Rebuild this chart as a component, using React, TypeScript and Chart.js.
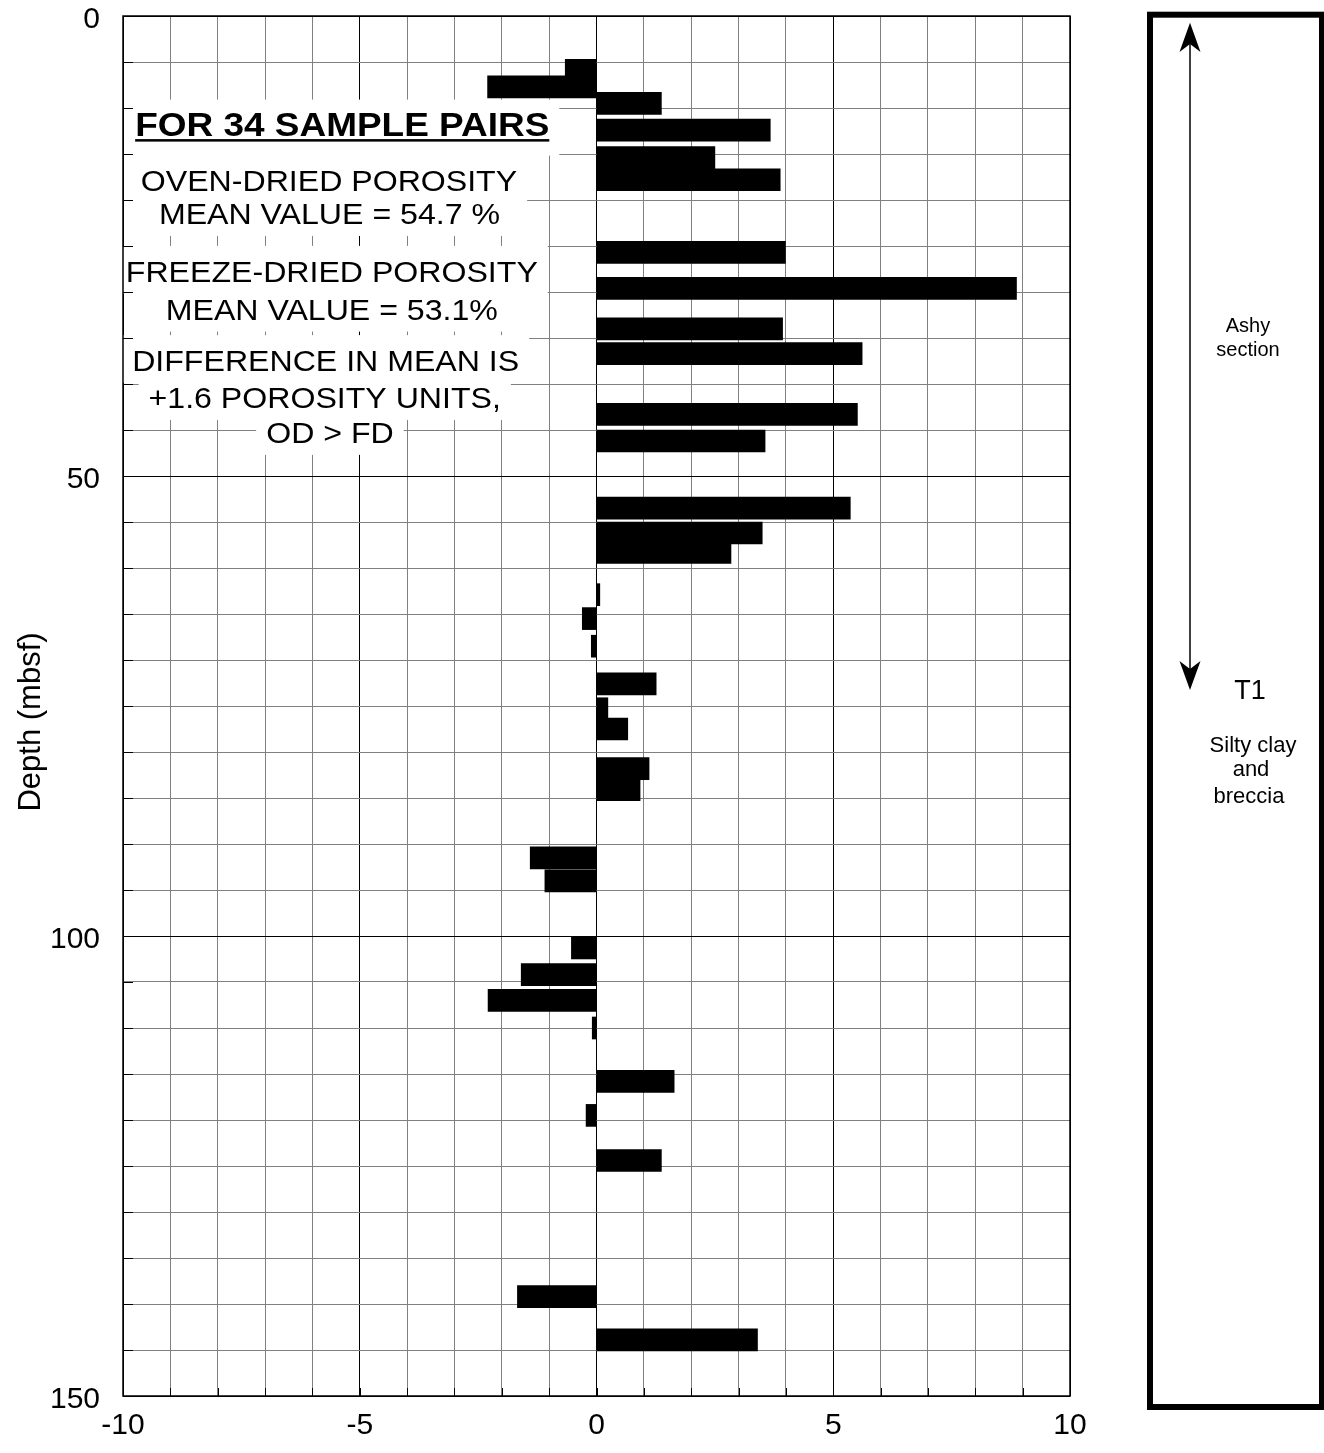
import React, { useEffect, useRef } from 'react';
import { Chart, registerables } from 'chart.js';

Chart.register(...registerables);

const FONT = '"Liberation Sans", Arial, Helvetica, sans-serif';

// Depth (mbsf) of each sample pair
const depths = [
  5.9, 7.7, 9.5, 12.4, 15.4, 17.8, 25.7, 29.6, 34.0, 36.7, 43.3, 46.2,
  53.5, 56.2, 58.3, 62.9, 65.5, 68.5, 72.6, 75.3, 77.5, 81.8, 84.1,
  91.5, 94.0, 101.3, 104.2, 107.0, 110.0, 115.8, 119.5, 124.4, 139.2, 143.9,
];

// Porosity difference (OD - FD), porosity units
const differences = [
  -0.66, -2.3, 1.37, 3.67, 2.5, 3.88, 3.99, 8.87, 3.93, 5.61, 5.51, 3.56,
  5.36, 3.5, 2.84, 0.07, -0.3, -0.11, 1.26, 0.24, 0.66, 1.11, 0.92,
  -1.4, -1.09, -0.53, -1.59, -2.29, -0.09, 1.64, -0.22, 1.37, -1.67, 3.4,
];

const xTickLabels = [-10, -5, 0, 5, 10];
const yTickLabels = [0, 50, 100, 150];

const yAxisTitle = 'Depth (mbsf)';

const noteLines = [
  'FOR 34 SAMPLE PAIRS',
  'OVEN-DRIED POROSITY',
  'MEAN VALUE = 54.7 %',
  'FREEZE-DRIED POROSITY',
  'MEAN VALUE = 53.1%',
  'DIFFERENCE IN MEAN IS',
  '+1.6 POROSITY UNITS,',
  'OD > FD',
];

const unitLabelTop = ['Ashy', 'section'];
const unitName = 'T1';
const unitLabelBottom = ['Silty clay', 'and', 'breccia'];

// annotation placement (data coordinates: x = difference, y = depth of baseline)
const noteX = [-5.37, -5.65, -5.64, -5.59, -5.59, -5.72, -5.74, -5.63];
const noteY = [13.0, 19.0, 22.6, 28.9, 33.0, 38.6, 42.6, 46.4];

const overlayPlugin = {
  id: 'overlay',
  beforeDatasetsDraw(chart: any) {
    const { ctx, scales } = chart;
    const x = scales.x;
    const y = scales.y;
    ctx.save();
    const items = noteLines.map((text, i) => {
      const bold = i === 0;
      const size = bold ? 33 : 30;
      const sx = bold ? 1.12 : 1.07;
      const font = `${bold ? 'bold ' : ''}${size}px ${FONT}`;
      ctx.font = font;
      const w = ctx.measureText(text).width * sx;
      const cx = x.getPixelForValue(noteX[i]);
      const by = y.getPixelForValue(noteY[i]);
      return { text, bold, sx, font, w, cx, by };
    });
    ctx.fillStyle = '#ffffff';
    items.forEach((it) => {
      ctx.fillRect(it.cx - it.w / 2 - 10, it.by - 36, it.w + 20, it.bold ? 56 : 48);
    });
    ctx.fillStyle = '#000000';
    items.forEach((it) => {
      ctx.font = it.font;
      ctx.save();
      ctx.translate(it.cx, it.by);
      ctx.scale(it.sx, 1);
      ctx.textAlign = 'center';
      ctx.textBaseline = 'alphabetic';
      ctx.fillText(it.text, 0, 0);
      ctx.restore();
      if (it.bold) ctx.fillRect(it.cx - it.w / 2, it.by + 3.5, it.w, 2.5);
    });
    ctx.restore();
  },
  afterDatasetsDraw(chart: any) {
    const { ctx, chartArea: a, scales } = chart;
    ctx.save();
    ctx.strokeStyle = '#000';
    ctx.lineWidth = 1;
    ctx.beginPath();
    scales.x.ticks.forEach((t: any) => {
      const px = Math.round(scales.x.getPixelForValue(t.value)) + 0.5;
      ctx.moveTo(px, a.bottom);
      ctx.lineTo(px, a.bottom - 8);
    });
    scales.y.ticks.forEach((t: any) => {
      const py = Math.round(scales.y.getPixelForValue(t.value)) + 0.5;
      ctx.moveTo(a.left, py);
      ctx.lineTo(a.left + 10, py);
    });
    ctx.stroke();
    ctx.lineWidth = 1.5;
    ctx.strokeRect(a.left, a.top, a.right - a.left, a.bottom - a.top);
    ctx.restore();
  },
  afterDraw(chart: any) {
    const { ctx } = chart;
    ctx.save();
    ctx.fillStyle = '#000';
    ctx.font = `31px ${FONT}`;
    ctx.textAlign = 'center';
    ctx.textBaseline = 'middle';
    ctx.save();
    ctx.translate(31, 722);
    ctx.rotate(-Math.PI / 2);
    ctx.fillText(yAxisTitle, 0, 0);
    ctx.restore();

    ctx.strokeStyle = '#000';
    ctx.lineWidth = 6;
    ctx.strokeRect(1150, 14.7, 172, 1392.3);

    ctx.lineWidth = 1.5;
    ctx.beginPath();
    ctx.moveTo(1190, 40);
    ctx.lineTo(1190, 675);
    ctx.stroke();
    ctx.fillStyle = '#000';
    ctx.beginPath();
    ctx.moveTo(1190, 22.7);
    ctx.lineTo(1200.5, 52);
    ctx.lineTo(1190, 44);
    ctx.lineTo(1179.5, 52);
    ctx.closePath();
    ctx.fill();
    ctx.beginPath();
    ctx.moveTo(1190, 690);
    ctx.lineTo(1200.5, 661);
    ctx.lineTo(1190, 669);
    ctx.lineTo(1179.5, 661);
    ctx.closePath();
    ctx.fill();

    ctx.textAlign = 'center';
    ctx.textBaseline = 'middle';
    ctx.font = `20px ${FONT}`;
    ctx.fillText(unitLabelTop[0], 1248, 326);
    ctx.fillText(unitLabelTop[1], 1248, 350);
    ctx.font = `27px ${FONT}`;
    ctx.fillText(unitName, 1250, 692);
    ctx.font = `22px ${FONT}`;
    ctx.fillText(unitLabelBottom[0], 1253, 746);
    ctx.fillText(unitLabelBottom[1], 1251, 770);
    ctx.fillText(unitLabelBottom[2], 1249, 797);
    ctx.restore();
  },
};

export default function App() {
  const canvasRef = useRef<HTMLCanvasElement | null>(null);

  useEffect(() => {
    if (!canvasRef.current) return;
    const chart = new Chart(canvasRef.current, {
      type: 'bar',
      data: {
        datasets: [
          {
            data: depths.map((d, i) => ({ x: differences[i], y: d })),
            backgroundColor: '#000000',
            borderWidth: 0,
            barThickness: 22,
          } as any,
        ],
      },
      options: {
        animation: false,
        responsive: false,
        devicePixelRatio: 1,
        indexAxis: 'y',
        layout: { padding: { top: 16, right: 254, left: 0, bottom: 0 } },
        plugins: {
          legend: { display: false },
          tooltip: { enabled: false },
          title: { display: false },
        },
        scales: {
          x: {
            type: 'linear',
            min: -10,
            max: 10,
            offset: false,
            ticks: {
              stepSize: 1,
              autoSkip: false,
              maxRotation: 0,
              padding: 12,
              color: '#000',
              font: { family: FONT, size: 30 },
              callback: (v: any) => (xTickLabels.includes(Number(v)) ? String(v) : ''),
            },
            grid: {
              drawTicks: false,
              color: (c: any) => (c.tick && Math.abs(c.tick.value % 5) < 1e-9 ? '#000000' : '#808080'),
              lineWidth: 1,
            },
            border: { display: false },
            afterFit: (s: any) => {
              s.height = 57;
              s.paddingLeft = 0;
              s.paddingRight = 0;
              s.paddingTop = 0;
              s.paddingBottom = 0;
            },
          },
          y: {
            type: 'linear',
            min: 0,
            max: 150,
            reverse: true,
            offset: false,
            ticks: {
              stepSize: 5,
              autoSkip: false,
              padding: 23,
              labelOffset: 4,
              color: '#000',
              font: { family: FONT, size: 30 },
              callback: (v: any) => (yTickLabels.includes(Number(v)) ? String(v) : ''),
            },
            grid: {
              offset: false,
              drawTicks: false,
              color: (c: any) => (c.tick && Math.abs(c.tick.value % 50) < 1e-9 ? '#000000' : '#808080'),
              lineWidth: 1,
            },
            border: { display: false },
            afterFit: (s: any) => {
              s.width = 123;
              s.paddingLeft = 0;
              s.paddingRight = 0;
              s.paddingTop = 0;
              s.paddingBottom = 0;
            },
          },
        },
      } as any,
      plugins: [overlayPlugin],
    });
    return () => chart.destroy();
  }, []);

  return (
    <div style={{ position: 'absolute', left: 0, top: 0, width: 1324, height: 1453, background: '#fff' }}>
      <canvas ref={canvasRef} width={1324} height={1453} style={{ display: 'block', width: 1324, height: 1453 }} />
    </div>
  );
}
